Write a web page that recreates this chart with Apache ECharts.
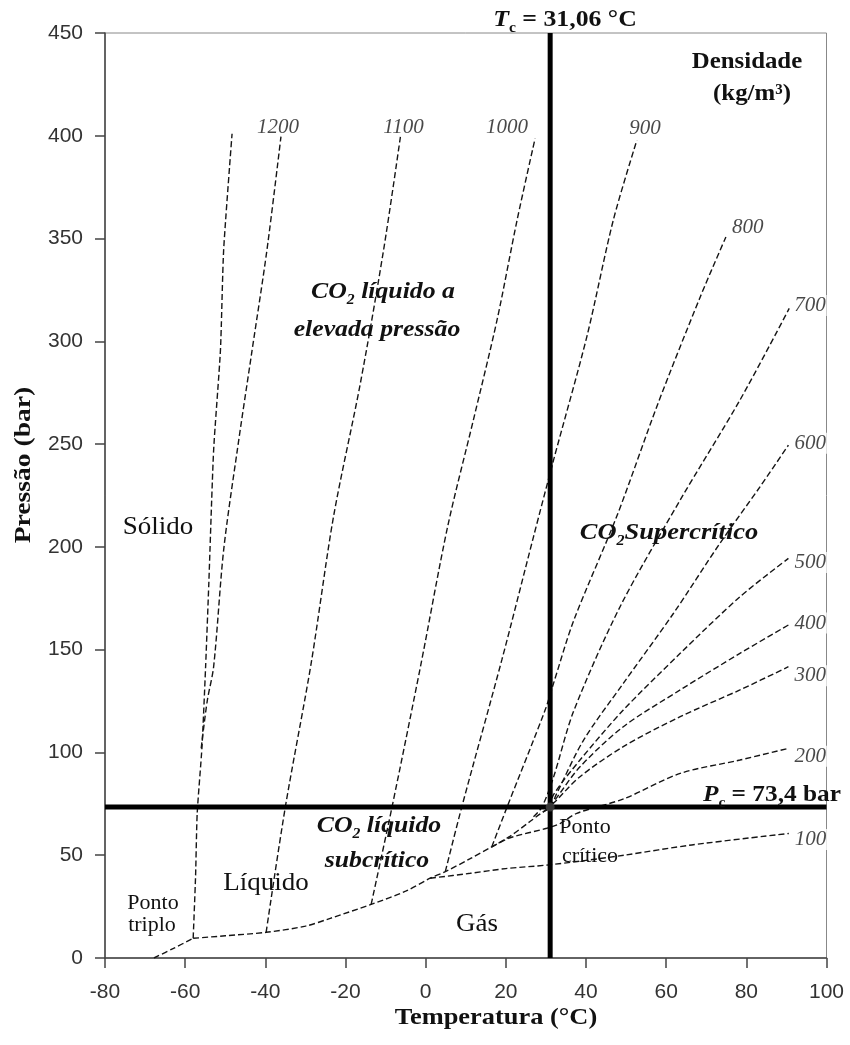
<!DOCTYPE html>
<html><head><meta charset="utf-8">
<script src="https://cdn.jsdelivr.net/npm/echarts@6/dist/echarts.min.js"></script>
<style>html,body{margin:0;padding:0;background:#fff}#c{width:850px;height:1045px}</style>
</head><body><div id="c"></div>
<script>
// ---- axis ticks ----
const temperatureTicks = [-80, -60, -40, -20, 0, 20, 40, 60, 80, 100];
const pressureTicks = [0, 50, 100, 150, 200, 250, 300, 350, 400, 450];

// ---- critical point ----
const criticalT = 31.06;
const criticalP = 73.4;

// ---- phase boundaries (T °C, P bar) ----
const sublimationCurve = [[-67.8, 0], [-62.9, 4.7], [-58, 9.6]];
const meltingCurve = [[-58, 9.6], [-57.4, 40], [-57, 70.4], [-55.8, 102.8], [-54.9, 141.7], [-54.1, 182.2], [-52.9, 247], [-51.2, 295.7], [-50.4, 344.4], [-48.3, 401]];
const vaporPressureCurve = [[-58, 9.6], [-50, 10.8], [-39.8, 12.5], [-30, 15.5], [-23.8, 19.3], [-13.6, 26.1], [-5, 32.5], [1.1, 38.8], [4.9, 42], [11.1, 48.3], [16.5, 54.1], [21.1, 59.3], [26.1, 66.5], [28.5, 70], [31.06, 73.4]];

// ---- isochores (density kg/m3) ----
const iso1200 = [[-56, 102], [-54.5, 125], [-52.9, 141.7], [-50.4, 198.4], [-47, 247], [-43.3, 295.7], [-39.6, 344.4], [-36.1, 399.6]];
const iso1100 = [[-39.8, 12.5], [-35, 73.6], [-28.6, 143], [-23, 214.6], [-16.3, 279.5], [-10.5, 344.4], [-6.3, 399.5]];
const iso1000 = [[-13.6, 26.1], [-8.4, 73.4], [-1.3, 141.7], [5.5, 210], [11.9, 261.7], [17.8, 310.3], [22.8, 358.9], [27.3, 398.7]];
const iso900 = [[4.9, 42], [9, 73.4], [19, 145], [26.9, 204.9], [31.9, 242.2], [40.2, 302.2], [46.8, 358.9], [52.7, 397.9]];
const iso800 = [[16.5, 54.1], [20.3, 73.4], [29.8, 120.6], [31.9, 133.6], [36.9, 164], [47.7, 215], [58, 270], [68.5, 321.6], [74.9, 350.8]];
const iso700 = [[26.9, 68.7], [29, 73.4], [31.9, 88], [36.9, 120], [48.5, 170.9], [63.5, 222.8], [78.4, 271.4], [90.7, 316]];
const iso600 = [[29.2, 71], [31.06, 73.4], [32.7, 80], [39.4, 106], [49.3, 133.6], [61.8, 167.6], [73.4, 201.7], [83.4, 229.2], [90.5, 249.5]];
const iso500 = [[31.06, 73.4], [31.9, 79.5], [38.5, 96.3], [49.3, 120.6], [63.5, 148.2], [78.4, 175.7], [90.5, 194.4]];
const iso400 = [[31.06, 73.4], [32.7, 78], [38.5, 93], [49.3, 112.5], [63.5, 130.4], [78.4, 148.2], [90.5, 162]];
const iso300 = [[30, 72], [32, 75.5], [38.5, 88.2], [49.3, 102.8], [63.5, 117.4], [78.4, 130.4], [90.5, 141.7]];
const iso200 = [[16.5, 54.1], [21.1, 58.5], [30.2, 63.1], [33.6, 65.5], [37.7, 70.4], [49.5, 77.5], [63.5, 89.8], [78.4, 96.3], [90.5, 102]];
const iso100 = [[1.1, 38.8], [11.1, 41.2], [20, 43.5], [30.2, 45.2], [40, 47.5], [49.8, 50.1], [66.4, 55], [90.6, 60.6]];

const densityNames = ['1200', '1100', '1000', '900', '800', '700', '600', '500', '400', '300', '200', '100'];
const isochores = [iso1200, iso1100, iso1000, iso900, iso800, iso700, iso600, iso500, iso400, iso300, iso200, iso100];

// ---- styling (not data) ----
const SERIF = 'Liberation Serif';
const SANS = 'Liberation Sans';
const labelPlacement = {
  '1200': ['center', 'bottom', -3, 1], '1100': ['center', 'bottom', 3, 1],
  '1000': ['center', 'bottom', -28, 0], '900': ['center', 'bottom', 8, -1],
  '800': ['left', 'middle', 5, -9], '700': ['left', 'middle', 4, -3],
  '600': ['left', 'middle', 5, -2], '500': ['left', 'middle', 5, 4],
  '400': ['left', 'middle', 5, -2], '300': ['left', 'middle', 5, 9],
  '200': ['left', 'middle', 5, 8], '100': ['left', 'middle', 5, 6]
};
const dash = { color: '#151515', width: 1.4, type: [6, 3] };

const series = [];
function dashedLine(name, data, smooth) {
  series.push({ name, type: 'line', data, smooth: smooth || false, showSymbol: false, symbol: 'none', lineStyle: dash, z: 2, silent: true });
}
dashedLine('sublimation', sublimationCurve, 0.3);
dashedLine('melting', meltingCurve, 0.2);
dashedLine('vapor', vaporPressureCurve, 0.3);
isochores.forEach((d, i) => dashedLine(densityNames[i], d, 0.3));

// density labels at each isochore end
series.push({
  type: 'scatter', symbol: 'circle', symbolSize: 2, itemStyle: { color: 'rgba(0,0,0,0)' }, z: 5, silent: true,
  data: isochores.map((d, i) => {
    const p = labelPlacement[densityNames[i]];
    return {
      value: d[d.length - 1],
      label: {
        show: true, formatter: densityNames[i], position: [p[2] + 1, p[3] + 1], align: p[0], verticalAlign: p[1],
        fontFamily: SERIF, fontStyle: 'italic', fontSize: 21, color: '#1a1a1a',
        backgroundColor: p[0] === 'left' ? '#fff' : 'transparent', padding: [0, 1]
      }
    };
  })
});

// critical lines
series.push({ type: 'line', data: [[criticalT, pressureTicks[0]], [criticalT, pressureTicks[pressureTicks.length - 1]]], showSymbol: false, symbol: 'none', lineStyle: { color: '#000', width: 5 }, z: 4, silent: true });
series.push({ type: 'line', data: [[temperatureTicks[0], criticalP], [temperatureTicks[temperatureTicks.length - 1], criticalP]], showSymbol: false, symbol: 'none', lineStyle: { color: '#000', width: 5 }, z: 4, silent: true });
series.push({ type: 'scatter', data: [[criticalT, criticalP]], symbolSize: 9, itemStyle: { color: '#444' }, z: 6, silent: true });

function txt(x, y, text, opt) {
  opt = opt || {};
  return {
    type: 'text', x, y, rotation: opt.rotation || 0, scaleX: opt.sx || 1.12, z: 100, silent: true,
    style: Object.assign({
      text, fontFamily: SERIF, fontSize: opt.size || 23, fontWeight: opt.bold ? 'bold' : 'normal',
      fontStyle: opt.italic ? 'italic' : 'normal', fill: '#111', align: opt.align || 'center', verticalAlign: 'middle'
    }, opt.rich ? { rich: opt.rich } : {})
  };
}
const subRich = (size, bold, italic) => ({
  a: { fontFamily: SERIF, fontSize: size, fontWeight: bold ? 'bold' : 'normal', fontStyle: italic ? 'italic' : 'normal', fill: '#111', verticalAlign: 'bottom' },
  ai: { fontFamily: SERIF, fontSize: size, fontWeight: bold ? 'bold' : 'normal', fontStyle: 'italic', fill: '#111', verticalAlign: 'bottom' },
  s: { fontFamily: SERIF, fontSize: Math.round(size * 0.6), fontWeight: bold ? 'bold' : 'normal', fontStyle: italic ? 'italic' : 'normal', fill: '#111', verticalAlign: 'bottom', padding: [0, 0, -4, 0] }
});

const graphics = [
  txt(24, 465, 'Pressão (bar)', { bold: true, size: 24, rotation: Math.PI / 2, sx: 1.15 }),
  txt(496, 1018, 'Temperatura (°C)', { bold: true, size: 24, sx: 1.1 }),
  txt(565, 20, '{ai|T}{s|c}{a| = 31,06 °C}', { bold: true, size: 23, rich: subRich(23, true, false), sx: 1.12 }),
  txt(747, 62, 'Densidade', { bold: true, size: 23, sx: 1.08 }),
  txt(752, 94, '(kg/m³)', { bold: true, size: 23, sx: 1.08 }),
  txt(383, 292, '{a|CO}{s|2}{a| líquido a}', { bold: true, italic: true, rich: subRich(23, true, true) }),
  txt(377, 330, 'elevada pressão', { bold: true, italic: true }),
  txt(158, 527, 'Sólido', { size: 25, sx: 1.08 }),
  txt(669, 533, '{a|CO}{s|2}{a|Supercrítico}', { bold: true, italic: true, rich: subRich(23, true, true), sx: 1.15 }),
  txt(703, 795, '{ai|P}{s|c}{a| = 73,4 bar}', { bold: true, size: 23, align: 'left', rich: subRich(23, true, false), sx: 1.1 }),
  txt(585, 828, 'Ponto', { size: 20, sx: 1.1 }),
  txt(590, 857, 'crítico', { size: 20, sx: 1.1 }),
  txt(379, 826, '{a|CO}{s|2}{a| líquido}', { bold: true, italic: true, rich: subRich(23, true, true) }),
  txt(377, 861, 'subcrítico', { bold: true, italic: true }),
  txt(266, 883, 'Líquido', { size: 25, sx: 1.08 }),
  txt(153, 904, 'Ponto', { size: 20, sx: 1.1 }),
  txt(152, 926, 'triplo', { size: 20, sx: 1.1 }),
  txt(477, 924, 'Gás', { size: 25, sx: 1.08 })
];

const axisCommon = {
  type: 'value',
  axisLine: { show: true, onZero: false, lineStyle: { color: '#444', width: 1.5 } },
  axisTick: { show: true, inside: false, length: 10, lineStyle: { color: '#444', width: 1.5 } },
  splitLine: { show: false }
};

const chart = echarts.init(document.getElementById('c'), null, { renderer: 'canvas' });
chart.setOption({
  animation: false,
  backgroundColor: '#fff',
  grid: { left: 105, right: 23.5, top: 33, bottom: 87, show: true, borderColor: '#888', borderWidth: 1, backgroundColor: 'transparent' },
  xAxis: Object.assign({}, axisCommon, {
    min: temperatureTicks[0], max: temperatureTicks[temperatureTicks.length - 1], interval: 20,
    axisLabel: { fontFamily: SANS, fontSize: 21, color: '#333', margin: 24 }
  }),
  yAxis: Object.assign({}, axisCommon, {
    min: pressureTicks[0], max: pressureTicks[pressureTicks.length - 1], interval: 50,
    axisLabel: { fontFamily: SANS, fontSize: 21, color: '#333', margin: 22 }
  }),
  series,
  graphic: graphics
});
</script></body></html>
